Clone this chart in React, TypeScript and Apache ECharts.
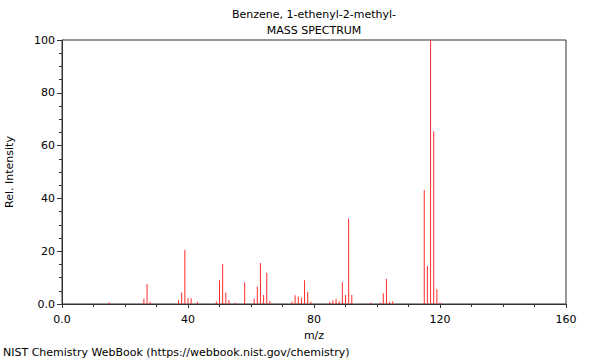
import React, { useEffect, useRef } from "react";
import * as echarts from "echarts";

const mz = [15, 26, 27, 28, 37, 38, 39, 40, 41, 43, 49, 50, 51, 52, 53, 55, 58, 61, 62, 63, 64, 65, 66, 73, 74, 75, 76, 77, 78, 79, 85, 86, 87, 88, 89, 90, 91, 92, 98, 101, 102, 103, 104, 105, 115, 116, 117, 118, 119, 120];
const intensity = [0.6, 2.0, 7.5, 0.8, 1.5, 4.3, 20.5, 2.2, 2.2, 0.8, 0.9, 9.0, 15.1, 4.3, 1.5, 0.5, 8.2, 2.0, 6.6, 15.5, 3.4, 11.8, 1.1, 0.9, 3.3, 2.8, 2.3, 9.0, 4.6, 0.8, 0.8, 1.4, 1.9, 1.0, 8.2, 3.4, 32.4, 3.4, 0.5, 0.5, 4.0, 9.5, 0.8, 1.0, 43.2, 14.4, 100, 65.4, 5.6, 0.5];

const titleLines = ["Benzene, 1-ethenyl-2-methyl-", "MASS SPECTRUM"];
const xLabel = "m/z";
const yLabel = "Rel. Intensity";
const footer = "NIST Chemistry WebBook (https://webbook.nist.gov/chemistry)";

const FONT = "DejaVu Sans";

export default function App() {
  const ref = useRef<HTMLDivElement>(null);
  useEffect(() => {
    const chart = echarts.init(ref.current!, null, { renderer: "svg" });
    const data = mz.map((m, i) => [m, intensity[i]]);
    const axisColor = "#333";
    const ts = { fontSize: 11, fontWeight: "normal", color: "#000", fontFamily: FONT };
    chart.setOption({
      animation: false,
      textStyle: { fontFamily: FONT },
      title: [
        { text: titleLines[0], left: 314, top: 9, padding: 0, textAlign: "center", textStyle: ts },
        { text: titleLines[1], left: 314, top: 25, padding: 0, textAlign: "center", textStyle: ts },
        { text: footer, left: 3, top: 347, padding: 0, textStyle: ts },
      ],
      grid: {
        left: 62,
        right: 34,
        top: 40,
        bottom: 56,
        containLabel: false,
        outerBoundsMode: "none",
        show: true,
        borderColor: axisColor,
        borderWidth: 1,
      },
      xAxis: {
        type: "value",
        min: 0,
        max: 160,
        interval: 40,
        name: xLabel,
        nameLocation: "middle",
        nameGap: 24,
        nameTextStyle: { fontSize: 11, color: "#000", fontFamily: FONT },
        axisLine: { show: true, lineStyle: { color: axisColor } },
        axisTick: { show: true, length: 4, lineStyle: { color: axisColor } },
        minorTick: { show: true, splitNumber: 4, length: 3, lineStyle: { color: axisColor } },
        splitLine: { show: false },
        axisLabel: {
          fontSize: 11,
          color: "#000",
          margin: 10,
          fontFamily: FONT,
          formatter: (v: number) => (v === 0 ? "0.0" : String(v)),
        },
      },
      yAxis: {
        type: "value",
        min: 0,
        max: 100,
        interval: 20,
        name: yLabel,
        nameLocation: "middle",
        nameGap: 47,
        nameTextStyle: { fontSize: 11, color: "#000", fontFamily: FONT },
        axisLine: { show: true, lineStyle: { color: axisColor } },
        axisTick: { show: true, length: 5, lineStyle: { color: axisColor } },
        minorTick: { show: true, splitNumber: 4, length: 3, lineStyle: { color: axisColor } },
        splitLine: { show: false },
        axisLabel: {
          fontSize: 11,
          color: "#000",
          margin: 7,
          fontFamily: FONT,
          formatter: (v: number) => (v === 0 ? "0.0" : String(v)),
        },
      },
      series: [
        {
          type: "custom",
          silent: true,
          emphasis: { disabled: true },
          itemStyle: { color: "#ff2a2a" },
          data,
          renderItem: (params: any, api: any) => {
            const x = api.value(0);
            const y = api.value(1);
            const p0 = api.coord([x, 0]);
            const p1 = api.coord([x, y]);
            return {
              type: "line",
              shape: { x1: p0[0], y1: p0[1], x2: p1[0], y2: p1[1] },
              style: { stroke: "#ff2a2a", fill: null, lineWidth: 1 },
              emphasisDisabled: true,
            };
          },
        },
      ],
    });
    return () => chart.dispose();
  }, []);
  return <div ref={ref} style={{ width: 600, height: 360, position: "absolute", left: 0, top: 0 }} />;
}
